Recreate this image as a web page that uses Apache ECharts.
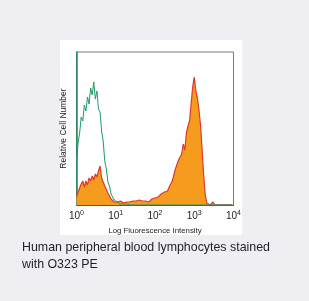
<!DOCTYPE html>
<html><head><meta charset="utf-8">
<script src="https://cdn.jsdelivr.net/npm/echarts@6/dist/echarts.min.js"></script>
<style>html,body{margin:0;padding:0;background:#efeef3;}#c{width:309px;height:301px;}</style>
</head><body><div id="c"></div>
<script>
// Histogram bins: 100 bins spanning 4 decades (10^0 .. 10^4), bin i at 10^(i*0.04)
const binCount = 100;
const decades = 4;
const xTickExponents = [0, 1, 2, 3, 4];
const xAxisTitle = 'Log Fluorescence Intensity';
const yAxisTitle = 'Relative Cell Number';
const caption = ['Human peripheral blood lymphocytes stained', 'with O323 PE'];

// Isotype control (green outline)
const controlCounts = [
  42, 62, 72, 88, 84, 100, 94, 108, 101, 117,
  110, 123, 106, 114, 96, 93, 74, 64, 44, 36,
  23, 19, 11, 9, 5, 4, 3, 2, 1, 2,
  1, 0, 1, 0, 0, 0, 0, 0, 0, 0,
  0, 0, 0, 0, 0, 0, 0, 0, 0, 0,
  0, 0, 0, 0, 0, 0, 0, 0, 0, 0,
  0, 0, 0, 0, 0, 0, 0, 0, 0, 0,
  0, 0, 0, 0, 0, 0, 0, 0, 0, 0,
  0, 0, 0, 0, 0, 0, 0, 0, 0, 0,
  0, 0, 0, 0, 0, 0, 0, 0, 0, 0
];
// O323 PE stained (orange fill, red outline)
const stainedCounts = [
  8, 13, 17, 21, 24, 18, 24, 20, 27, 24,
  29, 25, 31, 28, 34, 39, 27, 25, 19, 17,
  12, 9, 6, 4, 3, 2, 3, 2, 4, 3,
  2, 4, 3, 5, 3, 2, 4, 3, 4, 3,
  5, 3, 4, 2, 4, 5, 3, 4, 6, 5,
  7, 6, 8, 9, 11, 10, 13, 15, 14, 18,
  20, 24, 30, 36, 37, 45, 46, 51, 61, 55,
  72, 79, 84, 101, 118, 128, 114, 107, 95, 80,
  55, 30, 10, 2, 0, 0, 1, 3, 0, 0,
  0, 0, 0, 0, 0, 0, 0, 0, 0, 0
];

const binX = [];
for (let i = 0; i < binCount; i++) binX.push(Math.pow(10, i * decades / binCount));
const pair = arr => arr.map((v, i) => [binX[i], v]);

const chart = echarts.init(document.getElementById('c'), null, {renderer: 'canvas'});
const font = '"Liberation Sans", Arial, sans-serif';
chart.setOption({
  backgroundColor: '#efeef3',
  animation: false,
  graphic: [
    {type: 'rect', z: -10, shape: {x: 60, y: 40, width: 182, height: 195}, style: {fill: '#ffffff'}},
    {type: 'text', left: 22, top: 242, style: {text: caption[0], fontSize: 12.4, fontFamily: font, fill: '#1e1e28'}},
    {type: 'text', left: 22, top: 259, style: {text: caption[1], fontSize: 12.4, fontFamily: font, fill: '#1e1e28'}}
  ],
  grid: {left: 76.5, right: 75.5, top: 52, bottom: 96, show: true, borderColor: '#7a7a7a', borderWidth: 1, backgroundColor: 'transparent'},
  xAxis: {
    type: 'log', logBase: 10, min: 1, max: Math.pow(10, decades),
    name: xAxisTitle, nameLocation: 'middle', nameGap: 16,
    nameTextStyle: {fontSize: 7.8, fontFamily: font, color: '#222'},
    axisLine: {show: true, lineStyle: {color: '#2a6e50', width: 1}},
    axisTick: {show: false},
    splitLine: {show: false},
    axisLabel: {
      margin: 5,
      formatter: v => '{b|10}{s|' + Math.round(Math.log10(v)) + '}',
      rich: {
        b: {fontSize: 10, fontFamily: font, color: '#222', lineHeight: 12},
        s: {fontSize: 7, fontFamily: font, color: '#222', verticalAlign: 'top', padding: [0, 0, 6, 0]}
      }
    }
  },
  yAxis: {
    type: 'value', min: 0, max: 153,
    name: yAxisTitle, nameLocation: 'middle', nameGap: 8,
    nameTextStyle: {fontSize: 8.5, fontFamily: font, color: '#222'},
    axisLine: {show: true, lineStyle: {color: '#1f8a5c', width: 1.5}},
    axisTick: {show: false}, axisLabel: {show: false}, splitLine: {show: false}
  },
  series: [
    {type: 'line', data: pair(stainedCounts), showSymbol: false, z: 2,
     lineStyle: {color: '#e0382a', width: 1.2}, areaStyle: {color: '#f59c1e', opacity: 1}},
    {type: 'line', data: pair(controlCounts), showSymbol: false, z: 3,
     lineStyle: {color: '#1f9a68', width: 1}}
  ]
});
</script></body></html>
